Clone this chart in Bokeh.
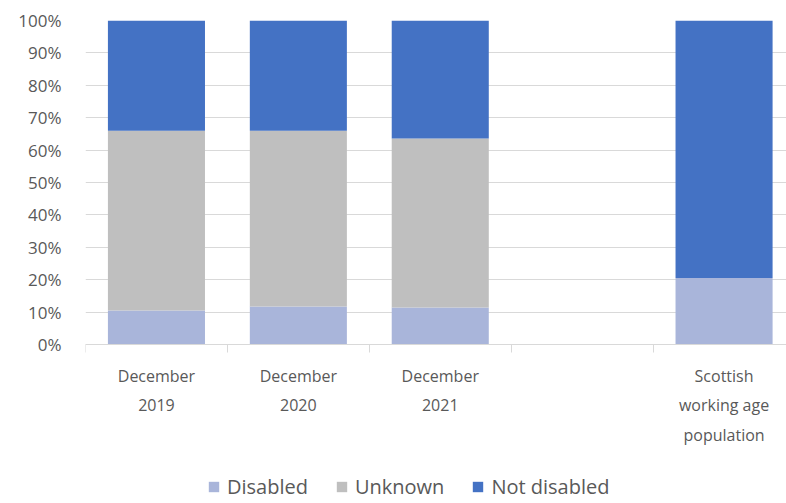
from bokeh.plotting import figure
from bokeh.models import Range1d, FixedTicker, Legend, LegendItem, ColumnDataSource
from bokeh.embed import file_html
from bokeh.resources import INLINE

categories = ["December\n2019", "December\n2020", "December\n2021", "", "Scottish\nworking age\npopulation"]
disabled = [10.5, 11.7, 11.4, 0.0, 20.5]
unknown = [55.5, 54.3, 52.2, 0.0, 0.0]
not_disabled = [34.0, 34.0, 36.4, 0.0, 79.5]
series_names = ["Disabled", "Unknown", "Not disabled"]
colors = ["#A9B5DA", "#BFBFBF", "#4472C4"]
y_ticks = [0, 10, 20, 30, 40, 50, 60, 70, 80, 90, 100]

FONT = "Open Sans"
TXT = "#595959"

xs = [i + 0.5 for i in range(len(categories))]
src = ColumnDataSource(dict(x=xs, Disabled=disabled, Unknown=unknown, **{"Not disabled": not_disabled}))

# frame spans 20..503 px; 100 units = 324 px, so the space below 0 holds axis labels and legend
p = figure(width=786, height=503, output_backend="svg", toolbar_location=None,
           x_range=Range1d(0, 4.94), y_range=Range1d(-49.07, 100),
           min_border_left=85, min_border_right=0, min_border_top=20, min_border_bottom=0)
p.outline_line_color = None
p.background_fill_color = "white"

renderers = p.vbar_stack(series_names, x="x", width=0.684, color=colors, line_color=None, source=src)

# y axis
p.yaxis.ticker = FixedTicker(ticks=y_ticks)
p.yaxis.major_label_overrides = {t: f"{t}%" for t in y_ticks}
p.yaxis.axis_line_color = None
p.yaxis.major_tick_line_color = None
p.yaxis.minor_tick_line_color = None
p.yaxis.major_label_standoff = 18
p.yaxis.major_label_text_font = FONT
p.yaxis.major_label_text_font_size = "17px"
p.yaxis.major_label_text_color = TXT

# x axis at y=0: labels at centres, ticks at category boundaries
p.xaxis.fixed_location = 0
p.xaxis.ticker = FixedTicker(ticks=xs, minor_ticks=list(range(len(categories) + 1)))
p.xaxis.major_label_overrides = {x: c for x, c in zip(xs, categories)}
p.xaxis.axis_line_color = "#D9D9D9"
p.xaxis.axis_line_width = 1
p.xaxis.major_tick_line_color = None
p.xaxis.minor_tick_line_color = "#D9D9D9"
p.xaxis.minor_tick_in = 0
p.xaxis.minor_tick_out = 8
p.xaxis.major_tick_out = 8
p.xaxis.major_label_standoff = 12
p.xaxis.major_label_text_font = FONT
p.xaxis.major_label_text_font_size = "16px"
p.xaxis.major_label_text_color = TXT
p.xaxis.major_label_text_line_height = 1.35

p.xgrid.grid_line_color = None
p.ygrid.grid_line_color = "#D9D9D9"
p.ygrid.grid_line_width = 1

legend = Legend(items=[LegendItem(label=n, renderers=[r]) for n, r in zip(series_names, renderers)],
                orientation="horizontal", location=(122, 3),
                glyph_width=13, glyph_height=13, label_standoff=7, spacing=27,
                label_text_font=FONT, label_text_font_size="20px", label_text_color=TXT,
                border_line_color=None, background_fill_alpha=0, padding=0, margin=0)
p.add_layout(legend, "center")

open("out.html", "w").write(file_html(p, INLINE))
